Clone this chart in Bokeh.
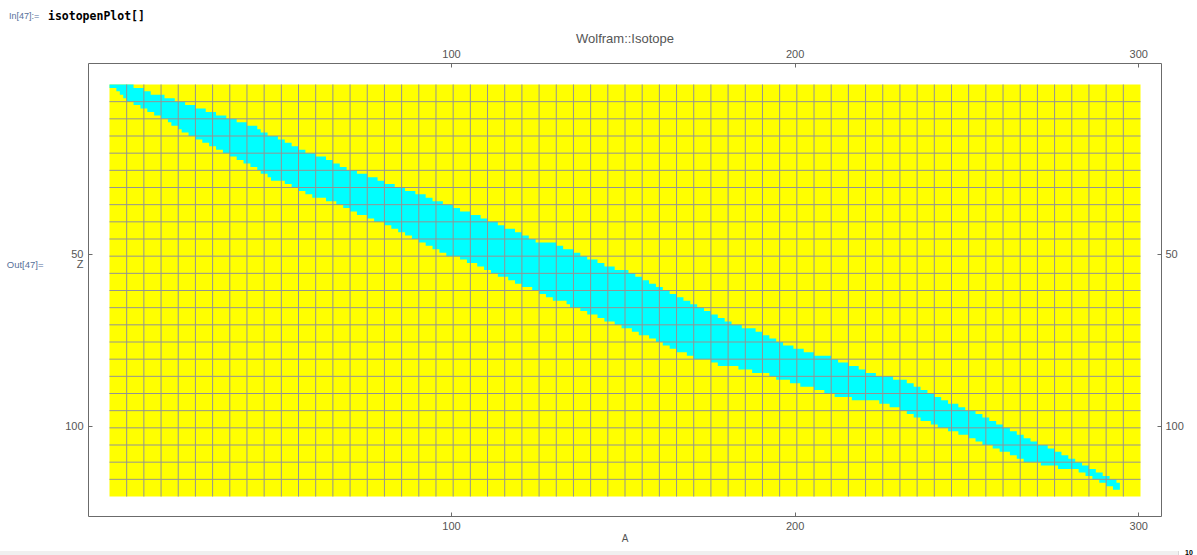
from bokeh.plotting import figure
from bokeh.models import Range1d, LinearAxis, FixedTicker, Div
from bokeh.layouts import column
from bokeh.embed import file_html
from bokeh.resources import INLINE

# ---------------- data ----------------
Z = list(range(1, 119))
A_min = [1, 3, 4, 5, 6, 8, 10, 12, 14, 16,
         18, 19, 21, 22, 24, 26, 28, 30, 32, 34,
         36, 38, 40, 42, 44, 45, 47, 48, 52, 54,
         56, 58, 60, 64, 67, 69, 71, 73, 76, 78,
         81, 83, 85, 87, 89, 91, 93, 95, 97, 99,
         103, 105, 108, 110, 112, 114, 117, 119, 121, 124,
         126, 128, 130, 134, 135, 138, 140, 143, 145, 148,
         150, 153, 155, 158, 160, 162, 164, 166, 169, 171,
         176, 178, 184, 188, 193, 195, 199, 202, 206, 209,
         212, 217, 225, 228, 231, 233, 235, 237, 240, 242,
         245, 248, 251, 253, 255, 258, 260, 263, 265, 267,
         272, 277, 283, 285, 287, 289, 291, 293]
A_max = [7, 10, 12, 16, 19, 22, 25, 28, 31, 34,
         37, 40, 43, 44, 46, 49, 51, 53, 55, 57,
         60, 63, 65, 67, 69, 72, 75, 78, 80, 83,
         86, 89, 92, 94, 97, 100, 102, 105, 108, 110,
         113, 115, 118, 120, 122, 124, 130, 132, 135, 137,
         139, 142, 144, 147, 151, 153, 155, 157, 159, 161,
         163, 165, 167, 169, 171, 173, 175, 177, 179, 181,
         184, 188, 190, 192, 194, 196, 199, 202, 205, 210,
         212, 215, 218, 220, 223, 228, 232, 234, 236, 238,
         240, 242, 244, 247, 249, 252, 254, 256, 258, 260,
         262, 264, 266, 268, 270, 273, 275, 277, 279, 281,
         283, 285, 287, 289, 291, 293, 294, 294]
N_A = 300          # number of mass-number columns
N_Z = 120          # number of proton-number rows
MESH_STEP = 5
x_ticks = [100, 200, 300]
y_ticks = [50, 100]
title_text = "Wolfram::Isotope"
x_label = "A"
y_label = "Z"
out_label = "Out[47]="
in_label = "In[47]:="
input_text = "isotopenPlot[]"
corner_text = "10"

# ---------------- geometry ----------------
W = 1197
TOP_H = 26
BOT_H = 9
H = 555 - TOP_H - BOT_H
BL, BR, BT, BB = 88, 36, 37, 30          # borders around the frame
X0, X1 = -5.61, 306.61
YB, YT = 126.325, -5.617
Y_LABEL_POS = 52.8                        # vertical spot of the "Z" / "Out" texts

FRAME_C = "#6b6b6b"
TXT_C = "#555555"
NB_C = "#56709a"
FONT = "Liberation Sans"

p = figure(width=W, height=H, x_range=Range1d(X0, X1), y_range=Range1d(YB, YT),
           output_backend="svg", toolbar_location=None,
           min_border_left=BL, min_border_right=BR,
           min_border_top=BT, min_border_bottom=BB,
           background_fill_color="white", border_fill_color="white",
           outline_line_color=FRAME_C, outline_line_width=1)
p.grid.visible = False

p.title.text = title_text
p.title.align = "center"
p.title.text_font = FONT
p.title.text_font_size = "13px"
p.title.text_font_style = "normal"
p.title.text_color = TXT_C
p.title.standoff = 1

ax_bottom = p.xaxis[0]
ax_left_ticks = p.yaxis[0]
ax_top = LinearAxis()
ax_right = LinearAxis()
ax_left_labels = LinearAxis()
ax_left_out = LinearAxis()
p.add_layout(ax_top, "above")
p.add_layout(ax_right, "right")
p.add_layout(ax_left_labels, "left")
p.add_layout(ax_left_out, "left")


def style(ax, ticks, standoff, ticklines=True):
    ax.ticker = FixedTicker(ticks=ticks)
    ax.axis_line_color = None
    ax.major_tick_in = 4 if ticklines else 0
    ax.major_tick_out = 0
    ax.major_tick_line_color = FRAME_C if ticklines else None
    ax.minor_tick_line_color = None
    ax.minor_tick_in = 0
    ax.minor_tick_out = 0
    ax.major_label_text_font = FONT
    ax.major_label_text_font_size = "11px"
    ax.major_label_text_color = TXT_C
    ax.major_label_standoff = standoff


style(ax_bottom, x_ticks, 5)
style(ax_top, x_ticks, 6)
style(ax_right, y_ticks, 4)
# innermost left axis: only the inward tick marks
style(ax_left_ticks, y_ticks, 0)
ax_left_ticks.major_label_overrides = {t: "" for t in y_ticks}
# second left axis: tick numbers and the "Z" label, no marks
style(ax_left_labels, y_ticks + [Y_LABEL_POS], 5, ticklines=False)
ax_left_labels.major_label_overrides = {Y_LABEL_POS: y_label}
# outermost left axis: the notebook "Out[..]=" tag
style(ax_left_out, [Y_LABEL_POS], 19, ticklines=False)
ax_left_out.major_label_overrides = {Y_LABEL_POS: out_label}
ax_left_out.major_label_text_color = NB_C
ax_left_out.major_label_text_font_size = "9.5px"

ax_bottom.axis_label = x_label
ax_bottom.axis_label_standoff = 0
ax_bottom.axis_label_text_font = FONT
ax_bottom.axis_label_text_font_size = "10px"
ax_bottom.axis_label_text_font_style = "normal"
ax_bottom.axis_label_text_color = TXT_C

# yellow background of the array
p.quad(left=[0.5], right=[N_A + 0.5], top=[0.5], bottom=[N_Z + 0.5],
       fill_color="#FFFF00", line_color=None)

# cyan band of known isotopes (staircase outline built from the per-Z ranges)
xs, ys = [], []
for z, lo in zip(Z, A_min):
    xs += [lo - 0.5, lo - 0.5]
    ys += [z - 0.5, z + 0.5]
for z, hi in zip(reversed(Z), reversed(A_max)):
    xs += [hi + 0.5, hi + 0.5]
    ys += [z + 0.5, z - 0.5]
p.patch(xs, ys, fill_color="#00FFFF", line_color=None)

# mesh
vx = [k + 0.5 for k in range(MESH_STEP, N_A, MESH_STEP)]
hy = [k + 0.5 for k in range(MESH_STEP, N_Z, MESH_STEP)]
p.segment(x0=vx, x1=vx, y0=[0.5] * len(vx), y1=[N_Z + 0.5] * len(vx),
          line_color="#939393", line_width=1)
p.segment(x0=[0.5] * len(hy), x1=[N_A + 0.5] * len(hy), y0=hy, y1=hy,
          line_color="#939393", line_width=1)

top_div = Div(
    text=('<div style="position:relative;height:%dpx;width:%dpx;overflow:hidden;">'
          '<span style="position:absolute;left:9px;top:11px;font:9px \'Liberation Sans\';'
          'color:%s;white-space:pre;">%s</span>'
          '<span style="position:absolute;left:48px;top:9px;font:bold 11.5px \'DejaVu Sans Mono\';'
          'color:#000;white-space:pre;">%s</span></div>') % (TOP_H, W, NB_C, in_label, input_text),
    width=W, height=TOP_H, margin=(0, 0, 0, 0))

bottom_div = Div(
    text=('<div style="position:relative;height:%dpx;width:%dpx;overflow:hidden;">'
          '<div style="position:absolute;left:0;top:2px;width:1179px;height:7px;'
          'background:#f0f0f0;border-right:1px solid #d8d8d8;"></div>'
          '<span style="position:absolute;left:1185px;top:0px;font:bold 7px \'Liberation Sans\';'
          'line-height:7px;color:#000;">%s</span></div>') % (BOT_H, W, corner_text),
    width=W, height=BOT_H, margin=(0, 0, 0, 0))

layout = column(top_div, p, bottom_div, spacing=0)
open("out.html", "w").write(file_html(layout, INLINE))
